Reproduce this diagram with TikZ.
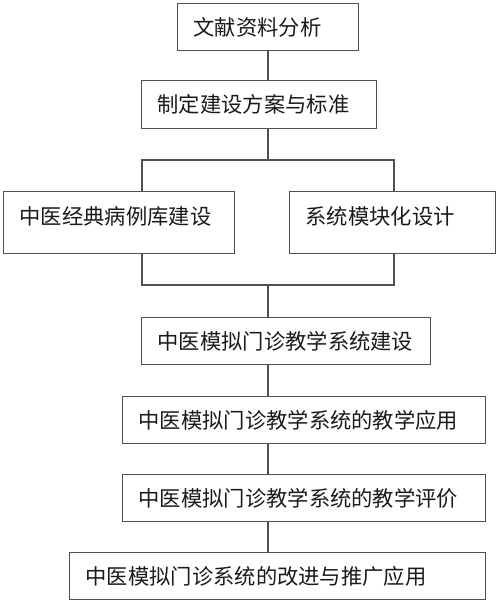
\documentclass[tikz,border=0pt]{standalone}
\usepackage{fontspec}
\newfontfamily\cjk{Noto Sans CJK SC}
\usetikzlibrary{positioning}
\definecolor{linegray}{HTML}{505050}
\definecolor{textgray}{HTML}{1A1A1A}

\begin{document}
\begin{tikzpicture}[x=1pt, y=-1pt,
    box/.style={rectangle, draw=linegray, line width=1.2pt, anchor=north west,
        inner xsep=16pt, inner ysep=0pt, align=left, text=textgray,
        font=\cjk\fontsize{21.3}{24}\selectfont, text height=18.7pt, text depth=2.6pt},
    tallbox/.style={box, text depth=14.6pt},
    link/.style={draw=linegray, line width=1.2pt}
]
    \useasboundingbox (0,0) rectangle (500,602);

    \node[box, text width=149pt, minimum height=47pt] (lit) at (177,3) {文献资料分析};
    \node[box, text width=203pt, minimum height=48pt] (plan) at (141,80) {制定建设方案与标准};
    \node[tallbox, text width=199pt, minimum height=62pt] (cases) at (3,191) {中医经典病例库建设};
    \node[tallbox, text width=174pt, minimum height=62pt] (modules) at (289,191) {系统模块化设计};
    \node[box, text width=257pt, minimum height=47pt] (build) at (141,317) {中医模拟门诊教学系统建设};
    \node[box, text width=331pt, minimum height=47pt] (teach) at (122,396) {中医模拟门诊教学系统的教学应用};
    \node[box, text width=331pt, minimum height=47pt] (assess) at (122,474) {中医模拟门诊教学系统的教学评价};
    \node[box, text width=384pt, minimum height=47pt] (promote) at (69,552) {中医模拟门诊系统的改进与推广应用};

    \coordinate (spine) at (268,0);
    \coordinate (lft) at (142,0);
    \coordinate (rgt) at (394,0);
    \coordinate (split) at (268,160);
    \coordinate (merge) at (268,285);

    \draw[link] (lit.south -| spine) -- (plan.north -| spine);
    \draw[link] (plan.south -| spine) -- (split);
    \draw[link] (cases.north -| lft) |- (split) -| (modules.north -| rgt);
    \draw[link] (cases.south -| lft) |- (merge) -| (modules.south -| rgt);
    \draw[link] (merge) -- (build.north -| spine);
    \draw[link] (build.south -| spine) -- (teach.north -| spine);
    \draw[link] (teach.south -| spine) -- (assess.north -| spine);
    \draw[link] (assess.south -| spine) -- (promote.north -| spine);
\end{tikzpicture}
\end{document}
